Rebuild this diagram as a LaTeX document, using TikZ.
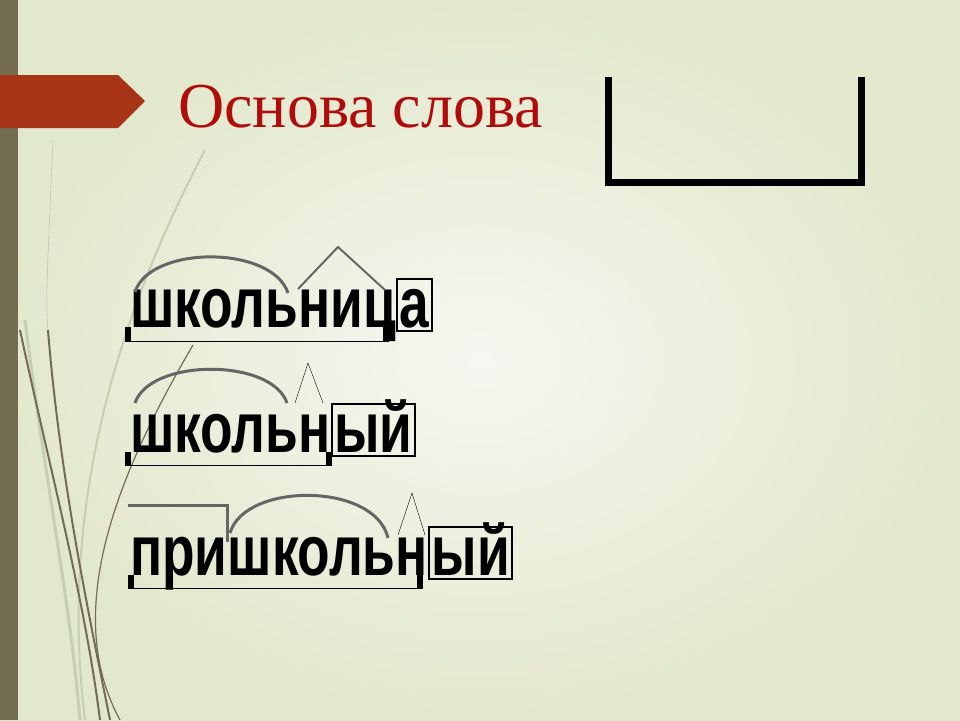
\documentclass[tikz,border=0pt]{standalone}
\usepackage{fontspec}
\setmainfont{Liberation Serif}
\newfontfamily\wordfont[FakeStretch=0.75]{Liberation Sans}
\definecolor{slidebg}{HTML}{E2E8CC}
\definecolor{slidelight}{HTML}{F6F7F0}
\definecolor{barolive}{HTML}{746C52}
\definecolor{arrowred}{HTML}{A83418}
\definecolor{titlered}{HTML}{B00C0C}
\definecolor{swoosh}{HTML}{C6CFB0}
\tikzset{
title/.style={anchor=base west, inner sep=0pt, text=titlered,
    font=\fontsize{64}{70}\selectfont},
word/.style={anchor=base west, inner sep=0pt,
    font=\wordfont\bfseries\fontsize{71}{76}\selectfont},
ending/.style={word, draw, line width=2pt, text height=46pt,
    text depth=2pt, inner xsep=2.5pt, inner ysep=2pt},
rootarc/.style={draw=black!60, line width=3pt},
sufmark/.style={draw=black!60, line width=2pt},
stemline/.style={draw, line width=1pt},
stemtick/.style={fill=black}
}
\begin{document}
\begin{tikzpicture}[x=1pt, y=-1pt]
	\useasboundingbox (0,0) rectangle (960,720);
	\shade[inner color=slidelight, outer color=slidebg] (0,0) rectangle (960,720);
	% left decoration
	\fill[barolive] (0,0) rectangle (18,720);
	\draw[swoosh, line width=2pt] (205,150) .. controls (110,330) and (60,520) .. (85,720);
	\draw[swoosh, line width=3pt] (25,320) .. controls (45,480) and (70,600) .. (80,720);
	\draw[barolive!40, line width=0.6pt] (53,140) .. controls (48,260) and (45,300) .. (48,330);
	\draw[barolive, line width=2pt] (48,330) .. controls (60,480) and (90,620) .. (110,720);
	\draw[barolive, line width=2pt] (20,330) .. controls (50,470) and (85,600) .. (100,720);
	\draw[barolive, line width=1.2pt] (193,345) .. controls (120,470) and (60,610) .. (120,720);
	\fill[arrowred] (0,75) -- (118,75) -- (145,101) -- (118,128) -- (0,128) -- cycle;
	\node[title] (title) at (178,127) {Основа слова};
	\draw[line width=7pt] (608,77) -- (608,182) -- (861,182) -- (861,77);
	% school girl
	\node[word] (stem1) at (130,327) {школьниц};
	\node[ending] (end1) at (stem1.base east) {а};
	\draw[rootarc] (135,292) .. controls (150,245) and (272,245) .. (288,293);
	\draw[sufmark] (298,289) -- (338,247) -- (385,290);
	\draw[stemline] (128,341) -- (388,341);
	\fill[stemtick] (125,327) rectangle (131,342);
	\fill[stemtick] (383,327) rectangle (389,342);
	% school adjective
	\node[word] (stem2) at (130,452) {школьн};
	\node[ending] (end2) at (stem2.base east) {ый};
	\draw[rootarc] (135,403) .. controls (150,358) and (272,358) .. (287,403);
	\draw[thin] (295,403) -- (308,363) -- (323,403);
	\draw[stemline] (128,465) -- (330,465);
	\fill[stemtick] (125,452) rectangle (131,466);
	\fill[stemtick] (326,452) rectangle (332,466);
	% with prefix
	\node[word] (stem3) at (130,575) {пришкольн};
	\node[ending] (end3) at (stem3.base east) {ый};
	\draw[rootarc] (128,505) -- (227,505) -- (227,542);
	\draw[rootarc] (230,533) .. controls (245,482) and (375,482) .. (388,538);
	\draw[thin] (398,535) -- (412,493) -- (425,535);
	\draw[stemline] (130,588) -- (422,588);
	\fill[stemtick] (128,575) rectangle (134,589);
	\fill[stemtick] (417,575) rectangle (423,589);
\end{tikzpicture}
\end{document}
